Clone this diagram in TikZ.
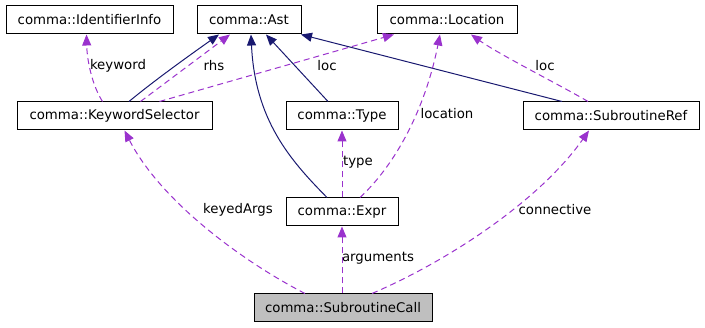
\documentclass[tikz,border=0pt]{standalone}
\usepackage{fontspec}
\setmainfont{DejaVu Sans}
\usetikzlibrary{arrows.meta}
\definecolor{navy}{HTML}{191970}
\definecolor{orchid}{HTML}{9A32CD}
\definecolor{callgray}{HTML}{BFBFBF}
\begin{document}
\begin{tikzpicture}[x=1pt,y=-1pt,
  every node/.style={font=\fontsize{13.3}{16}\selectfont},
  cls/.style={draw=black,line width=1pt,fill=white,inner sep=0pt,minimum height=28pt},
  inh/.style={draw=navy,line width=1pt,-{Triangle[length=11pt,width=9pt]}},
  use/.style={draw=orchid,line width=1pt,dash pattern=on 6pt off 4pt,-{Triangle[length=11pt,width=9pt]}},
  lbl/.style={inner sep=1pt,fill=none}]
\useasboundingbox (0,0) rectangle (705,328);
\node[cls,minimum width=167pt] (ii) at (89.5,20) {comma::IdentifierInfo};
\node[cls,minimum width=104pt] (ast) at (249,20) {comma::Ast};
\node[cls,minimum width=140pt] (loc) at (447,20) {comma::Location};
\node[cls,minimum width=195pt] (ks) at (114.5,116) {comma::KeywordSelector};
\node[cls,minimum width=112pt] (ty) at (342,116) {comma::Type};
\node[cls,minimum width=176pt] (sr) at (611,116) {comma::SubroutineRef};
\node[cls,minimum width=112pt] (ex) at (342,212) {comma::Expr};
\node[cls,minimum width=178pt,fill=callgray] (sc) at (343,308) {comma::SubroutineCall};
% inheritance
\draw[inh] ([xshift=14.5pt]ks.north) .. controls (155,80) and (190,55) .. ([xshift=-30pt]ast.south);
\draw[inh] ([xshift=-15pt]ex.north) .. controls (290,160) and (255,120) .. ([xshift=2pt]ast.south);
\draw[inh] ([xshift=-14pt]ty.north) -- ([xshift=17pt]ast.south);
\draw[inh] ([xshift=-49pt]sr.north) -- ([xshift=52pt]ast.south);
% usage
\draw[use] ([xshift=-12pt]ks.north) .. controls (92,85) and (87,60) .. ([xshift=-3pt]ii.south);
\node[lbl] (lkw) at (118,66) {keyword};
\draw[use] ([xshift=26pt]ks.north) -- ([xshift=-19pt]ast.south);
\node[lbl] (lrhs) at (214,66) {rhs};
\draw[use] ([xshift=45pt]ks.north) -- ([xshift=-53pt]loc.south);
\node[lbl] (lloc1) at (327,66) {loc};
\draw[use] ([xshift=18pt]ex.north) .. controls (395,165) and (425,110) .. ([xshift=-7pt]loc.south);
\node[lbl] (lloc2) at (447,114) {location};
\draw[use] ([xshift=-23pt]sr.north) .. controls (560,85) and (500,55) .. ([xshift=24pt]loc.south);
\node[lbl] (lloc3) at (545,66) {loc};
\draw[use] (ex.north) -- (ty.south);
\node[lbl] (ltype) at (358,162) {type};
\draw[use] ([xshift=-38pt]sc.north) .. controls (240,260) and (160,200) .. ([xshift=10pt]ks.south);
\node[lbl] (lka) at (238,210) {keyedArgs};
\draw[use] ([xshift=-1pt]sc.north) -- (ex.south);
\node[lbl] (larg) at (378,258) {arguments};
\draw[use] ([xshift=29pt]sc.north) .. controls (450,260) and (540,200) .. ([xshift=-22pt]sr.south);
\node[lbl] (lcon) at (555,210) {connective};
\end{tikzpicture}
\end{document}
